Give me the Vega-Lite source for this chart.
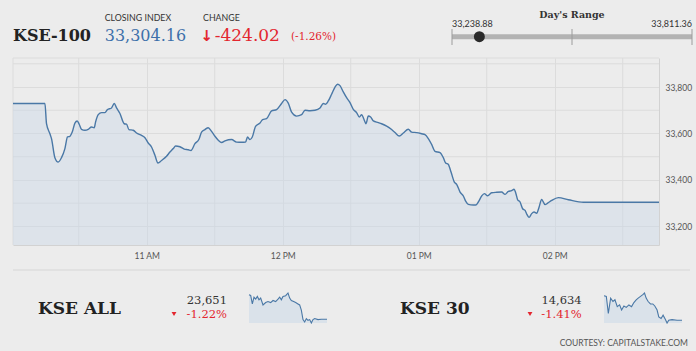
{
  "$schema": "https://vega.github.io/schema/vega-lite/v6.json",
  "background": "#ececec",
  "padding": {"left": 10, "top": 0, "right": 0, "bottom": 0},
  "spacing": 0,
  "config": {"view": {"stroke": null}, "font": "Lato"},
  "datasets": {
    "kseall": [
      {"min": 0, "value": 23939}, {"min": 6.1, "value": 23931}, {"min": 12.2, "value": 23831}, {"min": 18.3, "value": 23911},
      {"min": 24.4, "value": 23887}, {"min": 30.5, "value": 23919}, {"min": 36.5, "value": 23879}, {"min": 42.6, "value": 23899},
      {"min": 51.2, "value": 23819}, {"min": 60.9, "value": 23847}, {"min": 69.4, "value": 23859}, {"min": 79.2, "value": 23847},
      {"min": 87.7, "value": 23871}, {"min": 97.4, "value": 23859}, {"min": 106, "value": 23887}, {"min": 112.1, "value": 23911},
      {"min": 118.1, "value": 23879}, {"min": 124.2, "value": 23919}, {"min": 134, "value": 23927}, {"min": 142.5, "value": 23959},
      {"min": 148.6, "value": 23899}, {"min": 154.7, "value": 23871}, {"min": 163.2, "value": 23859}, {"min": 170.5, "value": 23847},
      {"min": 179, "value": 23831}, {"min": 185.1, "value": 23819}, {"min": 191.2, "value": 23759}, {"min": 197.3, "value": 23647},
      {"min": 203.4, "value": 23619}, {"min": 209.5, "value": 23659}, {"min": 215.6, "value": 23639}, {"min": 221.7, "value": 23647},
      {"min": 227.8, "value": 23607}, {"min": 233.9, "value": 23647}, {"min": 240, "value": 23659}, {"min": 252.1, "value": 23647},
      {"min": 264.3, "value": 23651}, {"min": 285, "value": 23651}
    ],
    "kse30": [
      {"min": 0, "value": 14864}, {"min": 8.5, "value": 14858}, {"min": 15.8, "value": 14698}, {"min": 24.3, "value": 14842},
      {"min": 32.7, "value": 14810}, {"min": 40, "value": 14826}, {"min": 48.5, "value": 14762}, {"min": 57, "value": 14778},
      {"min": 64.3, "value": 14730}, {"min": 72.8, "value": 14768}, {"min": 81.3, "value": 14755}, {"min": 91, "value": 14778},
      {"min": 100.7, "value": 14762}, {"min": 109.2, "value": 14800}, {"min": 117.6, "value": 14826}, {"min": 124.9, "value": 14842},
      {"min": 133.4, "value": 14858}, {"min": 141.9, "value": 14874}, {"min": 148, "value": 14890}, {"min": 154, "value": 14842},
      {"min": 161.3, "value": 14810}, {"min": 169.8, "value": 14787}, {"min": 178.3, "value": 14787}, {"min": 185.6, "value": 14768},
      {"min": 194, "value": 14730}, {"min": 200.1, "value": 14666}, {"min": 208.6, "value": 14650}, {"min": 215.9, "value": 14682},
      {"min": 224.4, "value": 14640}, {"min": 230.4, "value": 14608}, {"min": 236.5, "value": 14634}, {"min": 248.6, "value": 14640},
      {"min": 266.8, "value": 14634}, {"min": 285, "value": 14634}
    ]
  },
  "vconcat": [
    {
      "hconcat": [
        {
          "width": 436, "height": 57,
          "data": {"values": [{"index": "KSE-100", "closeLabel": "CLOSING INDEX", "close": "33,304.16", "changeLabel": "CHANGE", "arrow": "↓", "change": "-424.02", "pct": "(-1.26%)"}]},
          "layer": [
            {"mark": {"type": "text", "font": "DejaVu Serif", "fontWeight": "bold", "fontSize": 16, "color": "#222222", "align": "left", "baseline": "alphabetic"},
             "encoding": {"text": {"field": "index", "type": "nominal"}, "x": {"value": 0}, "y": {"value": 40.7}}},
            {"mark": {"type": "text", "font": "Lato", "fontSize": 8.8, "color": "#333333", "align": "left", "baseline": "alphabetic"},
             "encoding": {"text": {"field": "closeLabel", "type": "nominal"}, "x": {"value": 91.7}, "y": {"value": 21}}},
            {"mark": {"type": "text", "font": "DejaVu Serif", "fontSize": 16, "color": "#3d70aa", "align": "left", "baseline": "alphabetic"},
             "encoding": {"text": {"field": "close", "type": "nominal"}, "x": {"value": 91.7}, "y": {"value": 40.7}}},
            {"mark": {"type": "text", "font": "Lato", "fontSize": 8.8, "color": "#333333", "align": "left", "baseline": "alphabetic"},
             "encoding": {"text": {"field": "changeLabel", "type": "nominal"}, "x": {"value": 190}, "y": {"value": 21}}},
            {"mark": {"type": "text", "font": "DejaVu Sans", "fontSize": 15, "fontWeight": "bold", "color": "#e3262f", "align": "left", "baseline": "alphabetic"},
             "encoding": {"text": {"field": "arrow", "type": "nominal"}, "x": {"value": 187.5}, "y": {"value": 41}}},
            {"mark": {"type": "text", "font": "DejaVu Serif", "fontSize": 17, "color": "#e3262f", "align": "left", "baseline": "alphabetic"},
             "encoding": {"text": {"field": "change", "type": "nominal"}, "x": {"value": 201.7}, "y": {"value": 40.7}}},
            {"mark": {"type": "text", "font": "DejaVu Serif", "fontSize": 10.5, "color": "#e3262f", "align": "left", "baseline": "alphabetic"},
             "encoding": {"text": {"field": "pct", "type": "nominal"}, "x": {"value": 278}, "y": {"value": 40}}}
          ]
        },
        {
          "width": 240, "height": 57,
          "data": {"values": [{"low": 33238.88, "mid": 33525.12, "high": 33811.36, "close": 33304.16, "title": "Day's Range"}]},
          "layer": [
            {"mark": {"type": "rule", "color": "#b3b3b3", "strokeWidth": 5},
             "encoding": {"x": {"field": "low", "type": "quantitative", "scale": {"domain": [33238.88, 33811.36], "nice": false, "zero": false}, "axis": null},
                          "x2": {"field": "high"}, "y": {"value": 36.8}}},
            {"mark": {"type": "rule", "color": "#9c9c9c", "strokeWidth": 1},
             "encoding": {"x": {"field": "low", "type": "quantitative", "scale": {"domain": [33238.88, 33811.36], "nice": false, "zero": false}, "axis": null}, "y": {"value": 29}, "y2": {"value": 45}}},
            {"mark": {"type": "rule", "color": "#9c9c9c", "strokeWidth": 1},
             "encoding": {"x": {"field": "mid", "type": "quantitative", "scale": {"domain": [33238.88, 33811.36], "nice": false, "zero": false}, "axis": null}, "y": {"value": 29}, "y2": {"value": 45}}},
            {"mark": {"type": "rule", "color": "#9c9c9c", "strokeWidth": 1},
             "encoding": {"x": {"field": "high", "type": "quantitative", "scale": {"domain": [33238.88, 33811.36], "nice": false, "zero": false}, "axis": null}, "y": {"value": 29}, "y2": {"value": 45}}},
            {"mark": {"type": "point", "filled": true, "opacity": 1, "color": "#2a2a2a", "size": 120},
             "encoding": {"x": {"field": "close", "type": "quantitative", "scale": {"domain": [33238.88, 33811.36], "nice": false, "zero": false}, "axis": null}, "y": {"value": 36.7}}},
            {"mark": {"type": "text", "font": "DejaVu Serif", "fontWeight": "bold", "fontSize": 9.5, "color": "#333333", "align": "center", "baseline": "alphabetic"},
             "encoding": {"x": {"field": "mid", "type": "quantitative", "scale": {"domain": [33238.88, 33811.36], "nice": false, "zero": false}, "axis": null}, "y": {"value": 17.5}, "text": {"field": "title", "type": "nominal"}}},
            {"mark": {"type": "text", "font": "Lato", "fontSize": 9, "color": "#333333", "align": "left", "baseline": "alphabetic"},
             "encoding": {"x": {"field": "low", "type": "quantitative", "scale": {"domain": [33238.88, 33811.36], "nice": false, "zero": false}, "axis": null}, "y": {"value": 26.7}, "text": {"field": "low", "type": "quantitative", "format": ",.2f"}}},
            {"mark": {"type": "text", "font": "Lato", "fontSize": 9, "color": "#333333", "align": "right", "baseline": "alphabetic"},
             "encoding": {"x": {"field": "high", "type": "quantitative", "scale": {"domain": [33238.88, 33811.36], "nice": false, "zero": false}, "axis": null}, "y": {"value": 26.7}, "text": {"field": "high", "type": "quantitative", "format": ",.2f"}}}
          ]
        }
      ],
      "spacing": 0
    },
    {
      "width": 646, "height": 187,
      "layer": [
        {
          "data": {"values": [
            {"time": "2018-11-01T10:01:00"}, {"time": "2018-11-01T10:30:00"}, {"time": "2018-11-01T11:30:00"},
            {"time": "2018-11-01T12:30:00"}, {"time": "2018-11-01T13:30:00"}, {"time": "2018-11-01T14:30:00"}
          ]},
          "mark": {"type": "rule", "color": "#dcdcdc", "strokeWidth": 1},
          "encoding": {
            "x": {"field": "time", "type": "temporal", "scale": {"nice": false},
                  "axis": {"title": null, "format": "%I %p", "tickCount": 5, "grid": true, "gridColor": "#dcdcdc", "domainColor": "#d2d2d2", "ticks": false,
                           "labelFont": "Lato", "labelFontSize": 8.5, "labelColor": "#555555", "labelPadding": 6}}
          }
        },
        {
          "data": {"values": [{"level": 33300}, {"level": 33500}, {"level": 33700}, {"level": 33900}, {"level": 33925}]},
          "mark": {"type": "rule", "color": "#dcdcdc", "strokeWidth": 1},
          "encoding": {
            "y": {"field": "level", "type": "quantitative", "scale": {"domain": [33120, 33925], "zero": false, "nice": false},
                  "axis": {"title": null, "orient": "right", "values": [33200, 33400, 33600, 33800], "format": ",.0f", "grid": true, "gridColor": "#dcdcdc", "domainColor": "#d2d2d2", "ticks": false,
                           "labelFont": "Lato", "labelFontSize": 8.5, "labelColor": "#555555", "labelPadding": 6}}
          }
        },
        {
          "data": {"values": [
            {"time": "2018-11-01T10:01:00", "index": 33729}, {"time": "2018-11-01T10:15:05", "index": 33729}, {"time": "2018-11-01T10:15:47", "index": 33642},
            {"time": "2018-11-01T10:17:17", "index": 33599}, {"time": "2018-11-01T10:17:59", "index": 33578}, {"time": "2018-11-01T10:19:29", "index": 33496},
            {"time": "2018-11-01T10:20:57", "index": 33477}, {"time": "2018-11-01T10:22:24", "index": 33496}, {"time": "2018-11-01T10:23:54", "index": 33535},
            {"time": "2018-11-01T10:25:03", "index": 33585}, {"time": "2018-11-01T10:26:07", "index": 33588}, {"time": "2018-11-01T10:27:08", "index": 33606},
            {"time": "2018-11-01T10:28:19", "index": 33645}, {"time": "2018-11-01T10:29:20", "index": 33654}, {"time": "2018-11-01T10:30:13", "index": 33640},
            {"time": "2018-11-01T10:31:14", "index": 33618}, {"time": "2018-11-01T10:32:44", "index": 33614}, {"time": "2018-11-01T10:34:11", "index": 33618},
            {"time": "2018-11-01T10:35:38", "index": 33628}, {"time": "2018-11-01T10:36:50", "index": 33625}, {"time": "2018-11-01T10:37:25", "index": 33649},
            {"time": "2018-11-01T10:38:36", "index": 33681}, {"time": "2018-11-01T10:40:04", "index": 33690}, {"time": "2018-11-01T10:41:34", "index": 33690},
            {"time": "2018-11-01T10:42:42", "index": 33703}, {"time": "2018-11-01T10:44:28", "index": 33710}, {"time": "2018-11-01T10:45:40", "index": 33729},
            {"time": "2018-11-01T10:46:41", "index": 33710}, {"time": "2018-11-01T10:48:11", "index": 33686}, {"time": "2018-11-01T10:50:04", "index": 33642},
            {"time": "2018-11-01T10:51:05", "index": 33640}, {"time": "2018-11-01T10:52:09", "index": 33617}, {"time": "2018-11-01T10:54:03", "index": 33614},
            {"time": "2018-11-01T10:55:30", "index": 33602}, {"time": "2018-11-01T10:57:43", "index": 33592}, {"time": "2018-11-01T10:59:13", "index": 33582},
            {"time": "2018-11-01T11:00:40", "index": 33559}, {"time": "2018-11-01T11:02:07", "index": 33542}, {"time": "2018-11-01T11:03:37", "index": 33506},
            {"time": "2018-11-01T11:04:57", "index": 33473}, {"time": "2018-11-01T11:06:32", "index": 33484}, {"time": "2018-11-01T11:08:44", "index": 33502},
            {"time": "2018-11-01T11:10:14", "index": 33520}, {"time": "2018-11-01T11:11:42", "index": 33535}, {"time": "2018-11-01T11:12:43", "index": 33546},
            {"time": "2018-11-01T11:14:39", "index": 33543}, {"time": "2018-11-01T11:16:33", "index": 33533}, {"time": "2018-11-01T11:18:19", "index": 33530},
            {"time": "2018-11-01T11:19:31", "index": 33527}, {"time": "2018-11-01T11:21:16", "index": 33556}, {"time": "2018-11-01T11:23:02", "index": 33575},
            {"time": "2018-11-01T11:24:11", "index": 33606}, {"time": "2018-11-01T11:25:41", "index": 33617}, {"time": "2018-11-01T11:27:08", "index": 33625},
            {"time": "2018-11-01T11:28:36", "index": 33609}, {"time": "2018-11-01T11:30:06", "index": 33588}, {"time": "2018-11-01T11:31:34", "index": 33571},
            {"time": "2018-11-01T11:33:01", "index": 33561}, {"time": "2018-11-01T11:34:31", "index": 33568}, {"time": "2018-11-01T11:37:26", "index": 33574},
            {"time": "2018-11-01T11:39:38", "index": 33563}, {"time": "2018-11-01T11:41:50", "index": 33562}, {"time": "2018-11-01T11:43:36", "index": 33563},
            {"time": "2018-11-01T11:44:29", "index": 33585}, {"time": "2018-11-01T11:45:33", "index": 33574}, {"time": "2018-11-01T11:46:34", "index": 33585},
            {"time": "2018-11-01T11:48:01", "index": 33631}, {"time": "2018-11-01T11:49:58", "index": 33645}, {"time": "2018-11-01T11:51:07", "index": 33660},
            {"time": "2018-11-01T11:52:52", "index": 33664}, {"time": "2018-11-01T11:55:05", "index": 33697}, {"time": "2018-11-01T11:57:17", "index": 33703},
            {"time": "2018-11-01T11:59:29", "index": 33729}, {"time": "2018-11-01T12:01:00", "index": 33746}, {"time": "2018-11-01T12:02:27", "index": 33731},
            {"time": "2018-11-01T12:03:55", "index": 33692}, {"time": "2018-11-01T12:06:07", "index": 33675}, {"time": "2018-11-01T12:08:19", "index": 33681},
            {"time": "2018-11-01T12:09:49", "index": 33700}, {"time": "2018-11-01T12:12:02", "index": 33698}, {"time": "2018-11-01T12:14:14", "index": 33700},
            {"time": "2018-11-01T12:16:26", "index": 33710}, {"time": "2018-11-01T12:17:54", "index": 33729}, {"time": "2018-11-01T12:18:55", "index": 33726},
            {"time": "2018-11-01T12:20:06", "index": 33740}, {"time": "2018-11-01T12:21:34", "index": 33769}, {"time": "2018-11-01T12:23:04", "index": 33800},
            {"time": "2018-11-01T12:24:13", "index": 33812}, {"time": "2018-11-01T12:25:16", "index": 33806}, {"time": "2018-11-01T12:26:43", "index": 33779},
            {"time": "2018-11-01T12:28:11", "index": 33754}, {"time": "2018-11-01T12:29:41", "index": 33733}, {"time": "2018-11-01T12:31:08", "index": 33704},
            {"time": "2018-11-01T12:32:35", "index": 33690}, {"time": "2018-11-01T12:33:47", "index": 33671}, {"time": "2018-11-01T12:34:48", "index": 33681},
            {"time": "2018-11-01T12:35:52", "index": 33660}, {"time": "2018-11-01T12:36:44", "index": 33642}, {"time": "2018-11-01T12:37:45", "index": 33675},
            {"time": "2018-11-01T12:38:46", "index": 33671}, {"time": "2018-11-01T12:39:58", "index": 33654}, {"time": "2018-11-01T12:42:10", "index": 33647},
            {"time": "2018-11-01T12:43:37", "index": 33642}, {"time": "2018-11-01T12:45:50", "index": 33632}, {"time": "2018-11-01T12:48:02", "index": 33617},
            {"time": "2018-11-01T12:49:32", "index": 33604}, {"time": "2018-11-01T12:51:26", "index": 33589}, {"time": "2018-11-01T12:53:12", "index": 33602},
            {"time": "2018-11-01T12:55:25", "index": 33618}, {"time": "2018-11-01T12:56:52", "index": 33606}, {"time": "2018-11-01T12:59:04", "index": 33604},
            {"time": "2018-11-01T13:01:16", "index": 33599}, {"time": "2018-11-01T13:02:46", "index": 33595}, {"time": "2018-11-01T13:04:14", "index": 33578},
            {"time": "2018-11-01T13:05:41", "index": 33553}, {"time": "2018-11-01T13:07:11", "index": 33523}, {"time": "2018-11-01T13:09:24", "index": 33518},
            {"time": "2018-11-01T13:10:51", "index": 33496}, {"time": "2018-11-01T13:11:52", "index": 33473}, {"time": "2018-11-01T13:13:04", "index": 33467},
            {"time": "2018-11-01T13:14:15", "index": 33434}, {"time": "2018-11-01T13:15:43", "index": 33391}, {"time": "2018-11-01T13:16:44", "index": 33381},
            {"time": "2018-11-01T13:18:14", "index": 33348}, {"time": "2018-11-01T13:19:41", "index": 33331}, {"time": "2018-11-01T13:20:42", "index": 33309},
            {"time": "2018-11-01T13:21:53", "index": 33295}, {"time": "2018-11-01T13:24:06", "index": 33292}, {"time": "2018-11-01T13:25:07", "index": 33292},
            {"time": "2018-11-01T13:26:18", "index": 33305}, {"time": "2018-11-01T13:27:46", "index": 33331}, {"time": "2018-11-01T13:28:57", "index": 33341},
            {"time": "2018-11-01T13:30:24", "index": 33332}, {"time": "2018-11-01T13:32:10", "index": 33345}, {"time": "2018-11-01T13:34:22", "index": 33347},
            {"time": "2018-11-01T13:36:35", "index": 33348}, {"time": "2018-11-01T13:38:05", "index": 33338}, {"time": "2018-11-01T13:39:32", "index": 33351},
            {"time": "2018-11-01T13:40:59", "index": 33354}, {"time": "2018-11-01T13:42:03", "index": 33360}, {"time": "2018-11-01T13:42:46", "index": 33345},
            {"time": "2018-11-01T13:43:38", "index": 33315}, {"time": "2018-11-01T13:44:42", "index": 33305}, {"time": "2018-11-01T13:45:51", "index": 33276},
            {"time": "2018-11-01T13:46:55", "index": 33269}, {"time": "2018-11-01T13:47:47", "index": 33251}, {"time": "2018-11-01T13:48:41", "index": 33239},
            {"time": "2018-11-01T13:49:49", "index": 33255}, {"time": "2018-11-01T13:50:53", "index": 33262}, {"time": "2018-11-01T13:52:02", "index": 33257},
            {"time": "2018-11-01T13:53:05", "index": 33283}, {"time": "2018-11-01T13:54:14", "index": 33316}, {"time": "2018-11-01T13:54:59", "index": 33305},
            {"time": "2018-11-01T13:55:44", "index": 33294}, {"time": "2018-11-01T13:56:53", "index": 33300}, {"time": "2018-11-01T13:58:39", "index": 33312},
            {"time": "2018-11-01T14:01:37", "index": 33324}, {"time": "2018-11-01T14:06:01", "index": 33315}, {"time": "2018-11-01T14:12:38", "index": 33304},
            {"time": "2018-11-01T14:46:00", "index": 33304}
          ]},
          "encoding": {
            "x": {"field": "time", "type": "temporal", "scale": {"nice": false},
                  "axis": {"title": null, "format": "%I %p", "tickCount": 5, "grid": true, "gridColor": "#dcdcdc", "domainColor": "#d2d2d2", "ticks": false,
                           "labelFont": "Lato", "labelFontSize": 8.5, "labelColor": "#555555", "labelPadding": 6}},
            "y": {"field": "index", "type": "quantitative", "stack": null, "scale": {"domain": [33120, 33925], "zero": false, "nice": false},
                  "axis": {"title": null, "orient": "right", "values": [33200, 33400, 33600, 33800], "format": ",.0f", "grid": true, "gridColor": "#dcdcdc", "domainColor": "#d2d2d2", "ticks": false,
                           "labelFont": "Lato", "labelFontSize": 8.5, "labelColor": "#555555", "labelPadding": 6}}
          },
          "layer": [
            {"mark": {"type": "area", "interpolate": "monotone", "fill": "#c8d7e8", "fillOpacity": 0.4, "clip": true}},
            {"mark": {"type": "line", "interpolate": "monotone", "stroke": "#4a78a6", "strokeWidth": 1.4}}
          ]
        }
      ]
    },
    {
      "width": 677, "height": 29.5,
      "data": {"values": [{"sep": 1}]},
      "mark": {"type": "rule", "color": "#d6d6d6", "strokeWidth": 1},
      "encoding": {"y": {"value": 10}}
    },
    {
      "hconcat": [
        {
          "width": 233, "height": 30,
          "data": {"values": [{"name": "KSE ALL", "close": "23,651", "pct": "-1.22%"}]},
          "layer": [
            {"mark": {"type": "text", "font": "DejaVu Serif", "fontWeight": "bold", "fontSize": 17, "color": "#222222", "align": "left", "baseline": "alphabetic"},
             "encoding": {"text": {"field": "name", "type": "nominal"}, "x": {"value": 25}, "y": {"value": 21.3}}},
            {"mark": {"type": "text", "font": "DejaVu Serif", "fontSize": 11.5, "color": "#333333", "align": "right", "baseline": "alphabetic"},
             "encoding": {"text": {"field": "close", "type": "nominal"}, "x": {"value": 214}, "y": {"value": 10.7}}},
            {"mark": {"type": "text", "font": "DejaVu Serif", "fontSize": 11.5, "color": "#e3262f", "align": "right", "baseline": "alphabetic"},
             "encoding": {"text": {"field": "pct", "type": "nominal"}, "x": {"value": 214}, "y": {"value": 24.7}}},
            {"mark": {"type": "point", "shape": "triangle-down", "filled": true, "opacity": 1, "color": "#e3262f", "size": 24},
             "encoding": {"x": {"value": 161}, "y": {"value": 21}}}
          ]
        },
        {
          "width": 78, "height": 30,
          "data": {"name": "kseall"},
          "encoding": {
            "x": {"field": "min", "type": "quantitative", "scale": {"domain": [0, 285], "nice": false}, "axis": null},
            "y": {"field": "value", "type": "quantitative", "stack": null, "scale": {"domain": [23607, 23959], "zero": false, "nice": false}, "axis": null}
          },
          "layer": [
            {"mark": {"type": "area", "fill": "#c8d7e8", "fillOpacity": 0.5, "clip": true}},
            {"mark": {"type": "line", "stroke": "#4a78a6", "strokeWidth": 1.1}}
          ]
        },
        {
          "width": 271, "height": 30,
          "data": {"values": [{"name": "KSE 30", "close": "14,634", "pct": "-1.41%"}]},
          "layer": [
            {"mark": {"type": "text", "font": "DejaVu Serif", "fontWeight": "bold", "fontSize": 17, "color": "#222222", "align": "left", "baseline": "alphabetic"},
             "encoding": {"text": {"field": "name", "type": "nominal"}, "x": {"value": 70}, "y": {"value": 21.3}}},
            {"mark": {"type": "text", "font": "DejaVu Serif", "fontSize": 11.5, "color": "#333333", "align": "right", "baseline": "alphabetic"},
             "encoding": {"text": {"field": "close", "type": "nominal"}, "x": {"value": 251.7}, "y": {"value": 10.7}}},
            {"mark": {"type": "text", "font": "DejaVu Serif", "fontSize": 11.5, "color": "#e3262f", "align": "right", "baseline": "alphabetic"},
             "encoding": {"text": {"field": "pct", "type": "nominal"}, "x": {"value": 251.7}, "y": {"value": 24.7}}},
            {"mark": {"type": "point", "shape": "triangle-down", "filled": true, "opacity": 1, "color": "#e3262f", "size": 24},
             "encoding": {"x": {"value": 200}, "y": {"value": 21}}}
          ]
        },
        {
          "width": 78, "height": 30,
          "data": {"name": "kse30"},
          "encoding": {
            "x": {"field": "min", "type": "quantitative", "scale": {"domain": [0, 285], "nice": false}, "axis": null},
            "y": {"field": "value", "type": "quantitative", "stack": null, "scale": {"domain": [14608, 14890], "zero": false, "nice": false}, "axis": null}
          },
          "layer": [
            {"mark": {"type": "area", "fill": "#c8d7e8", "fillOpacity": 0.5, "clip": true}},
            {"mark": {"type": "line", "stroke": "#4a78a6", "strokeWidth": 1.1}}
          ]
        }
      ],
      "spacing": 0
    },
    {
      "width": 690, "height": 32,
      "data": {"values": [{"credit": "COURTESY: CAPITALSTAKE.COM"}]},
      "mark": {"type": "text", "font": "Lato", "fontSize": 8.5, "color": "#555555", "align": "right", "baseline": "middle"},
      "encoding": {"text": {"field": "credit", "type": "nominal"}, "x": {"value": 675}, "y": {"value": 17}}
    }
  ]
}
